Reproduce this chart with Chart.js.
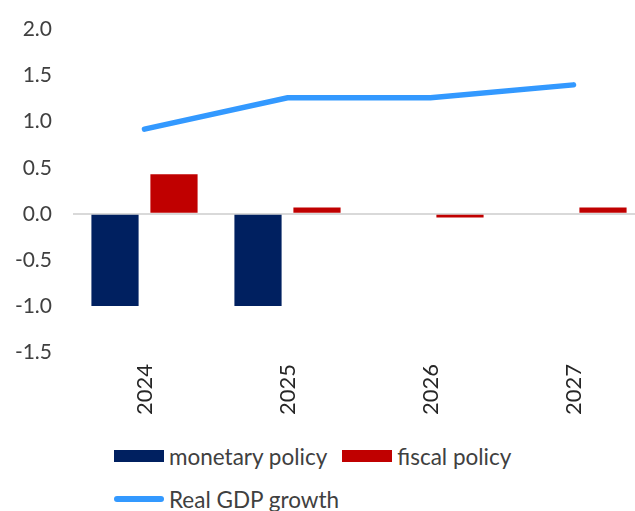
<!DOCTYPE html>
<html>
<head>
<meta charset="utf-8">
<script src="https://cdn.jsdelivr.net/npm/chart.js@4.4.1/dist/chart.umd.min.js"></script>
<style>
  html, body { margin: 0; padding: 0; background: #fff; overflow: hidden; }
  #wrap { position: relative; width: 635px; height: 511px; overflow: hidden; }
  #chart { position: absolute; left: 0; top: -4px; }
  #legend {
    position: absolute; left: 114px; top: 443px; width: 430px;
    font-family: Lato, "Liberation Sans", sans-serif; font-size: 22.5px; color: #404040;
  }
  .row { display: flex; align-items: center; height: 26px; margin-bottom: 17px; }
  .item { display: flex; align-items: center; margin-right: 15px; }
  .swatch { width: 50px; margin-right: 5px; }
</style>
</head>
<body>
<div id="wrap">
  <canvas id="chart" width="650" height="434"></canvas>
  <div id="legend"></div>
</div>
<script>
const years = ["2024", "2025", "2026", "2027"];
const monetaryPolicy = [-1.0, -1.0, 0, 0];
const fiscalPolicy = [0.43, 0.07, -0.04, 0.07];
const realGdpGrowth = [0.92, 1.26, 1.26, 1.40];
const yTicks = [-1.5, -1.0, -0.5, 0.0, 0.5, 1.0, 1.5, 2.0];

const font = "Lato, 'Liberation Sans', sans-serif";

const chart = new Chart(document.getElementById("chart"), {
  type: "bar",
  data: {
    labels: years,
    datasets: [
      {
        type: "line",
        label: "Real GDP growth",
        data: realGdpGrowth,
        borderColor: "#3399ff",
        backgroundColor: "#3399ff",
        borderWidth: 5.5,
        borderCapStyle: "round",
        pointRadius: 0,
        tension: 0,
        order: 0
      },
      {
        label: "monetary policy",
        data: monetaryPolicy,
        backgroundColor: "#002060",
        categoryPercentage: 0.825,
        barPercentage: 0.8,
        order: 1
      },
      {
        label: "fiscal policy",
        data: fiscalPolicy,
        backgroundColor: "#c00000",
        categoryPercentage: 0.825,
        barPercentage: 0.8,
        order: 1
      }
    ]
  },
  options: {
    responsive: false,
    animation: false,
    layout: { padding: { top: 0, right: 5, left: 0, bottom: 0 } },
    plugins: {
      legend: { display: false },
      tooltip: { enabled: false }
    },
    scales: {
      x: {
        grid: { display: false, drawTicks: false },
        border: { display: false },
        ticks: {
          minRotation: 90,
          maxRotation: 90,
          padding: 12,
          color: "#262626",
          font: { family: font, size: 22 }
        },
        afterFit: (scale) => { scale.height = 78; }
      },
      y: {
        min: -1.5,
        max: 2.0,
        afterBuildTicks: (scale) => {
          scale.ticks = yTicks.map(v => ({ value: v }));
        },
        grid: {
          drawTicks: false,
          lineWidth: 2,
          color: (ctx) => ctx.tick && ctx.tick.value === 0 ? "#d9d9d9" : "rgba(0,0,0,0)"
        },
        border: { display: false },
        ticks: {
          padding: 21,
          color: "#404040",
          font: { family: font, size: 21 },
          callback: (v) => Number(v).toFixed(1)
        },
        afterFit: (scale) => { scale.width = 73; }
      }
    }
  }
});

// legend: bars on the first row, line on the second
const legend = document.getElementById("legend");
const rows = [[1, 2], [0]];
rows.forEach(r => {
  const row = document.createElement("div");
  row.className = "row";
  r.forEach(i => {
    const ds = chart.data.datasets[i];
    const item = document.createElement("div");
    item.className = "item";
    const sw = document.createElement("div");
    sw.className = "swatch";
    if (ds.type === "line") {
      sw.style.height = "6px";
      sw.style.borderRadius = "3px";
      sw.style.background = ds.borderColor;
    } else {
      sw.style.height = "12px";
      sw.style.background = ds.backgroundColor;
    }
    const txt = document.createElement("span");
    txt.textContent = ds.label;
    item.appendChild(sw);
    item.appendChild(txt);
    row.appendChild(item);
  });
  legend.appendChild(row);
});
</script>
</body>
</html>
